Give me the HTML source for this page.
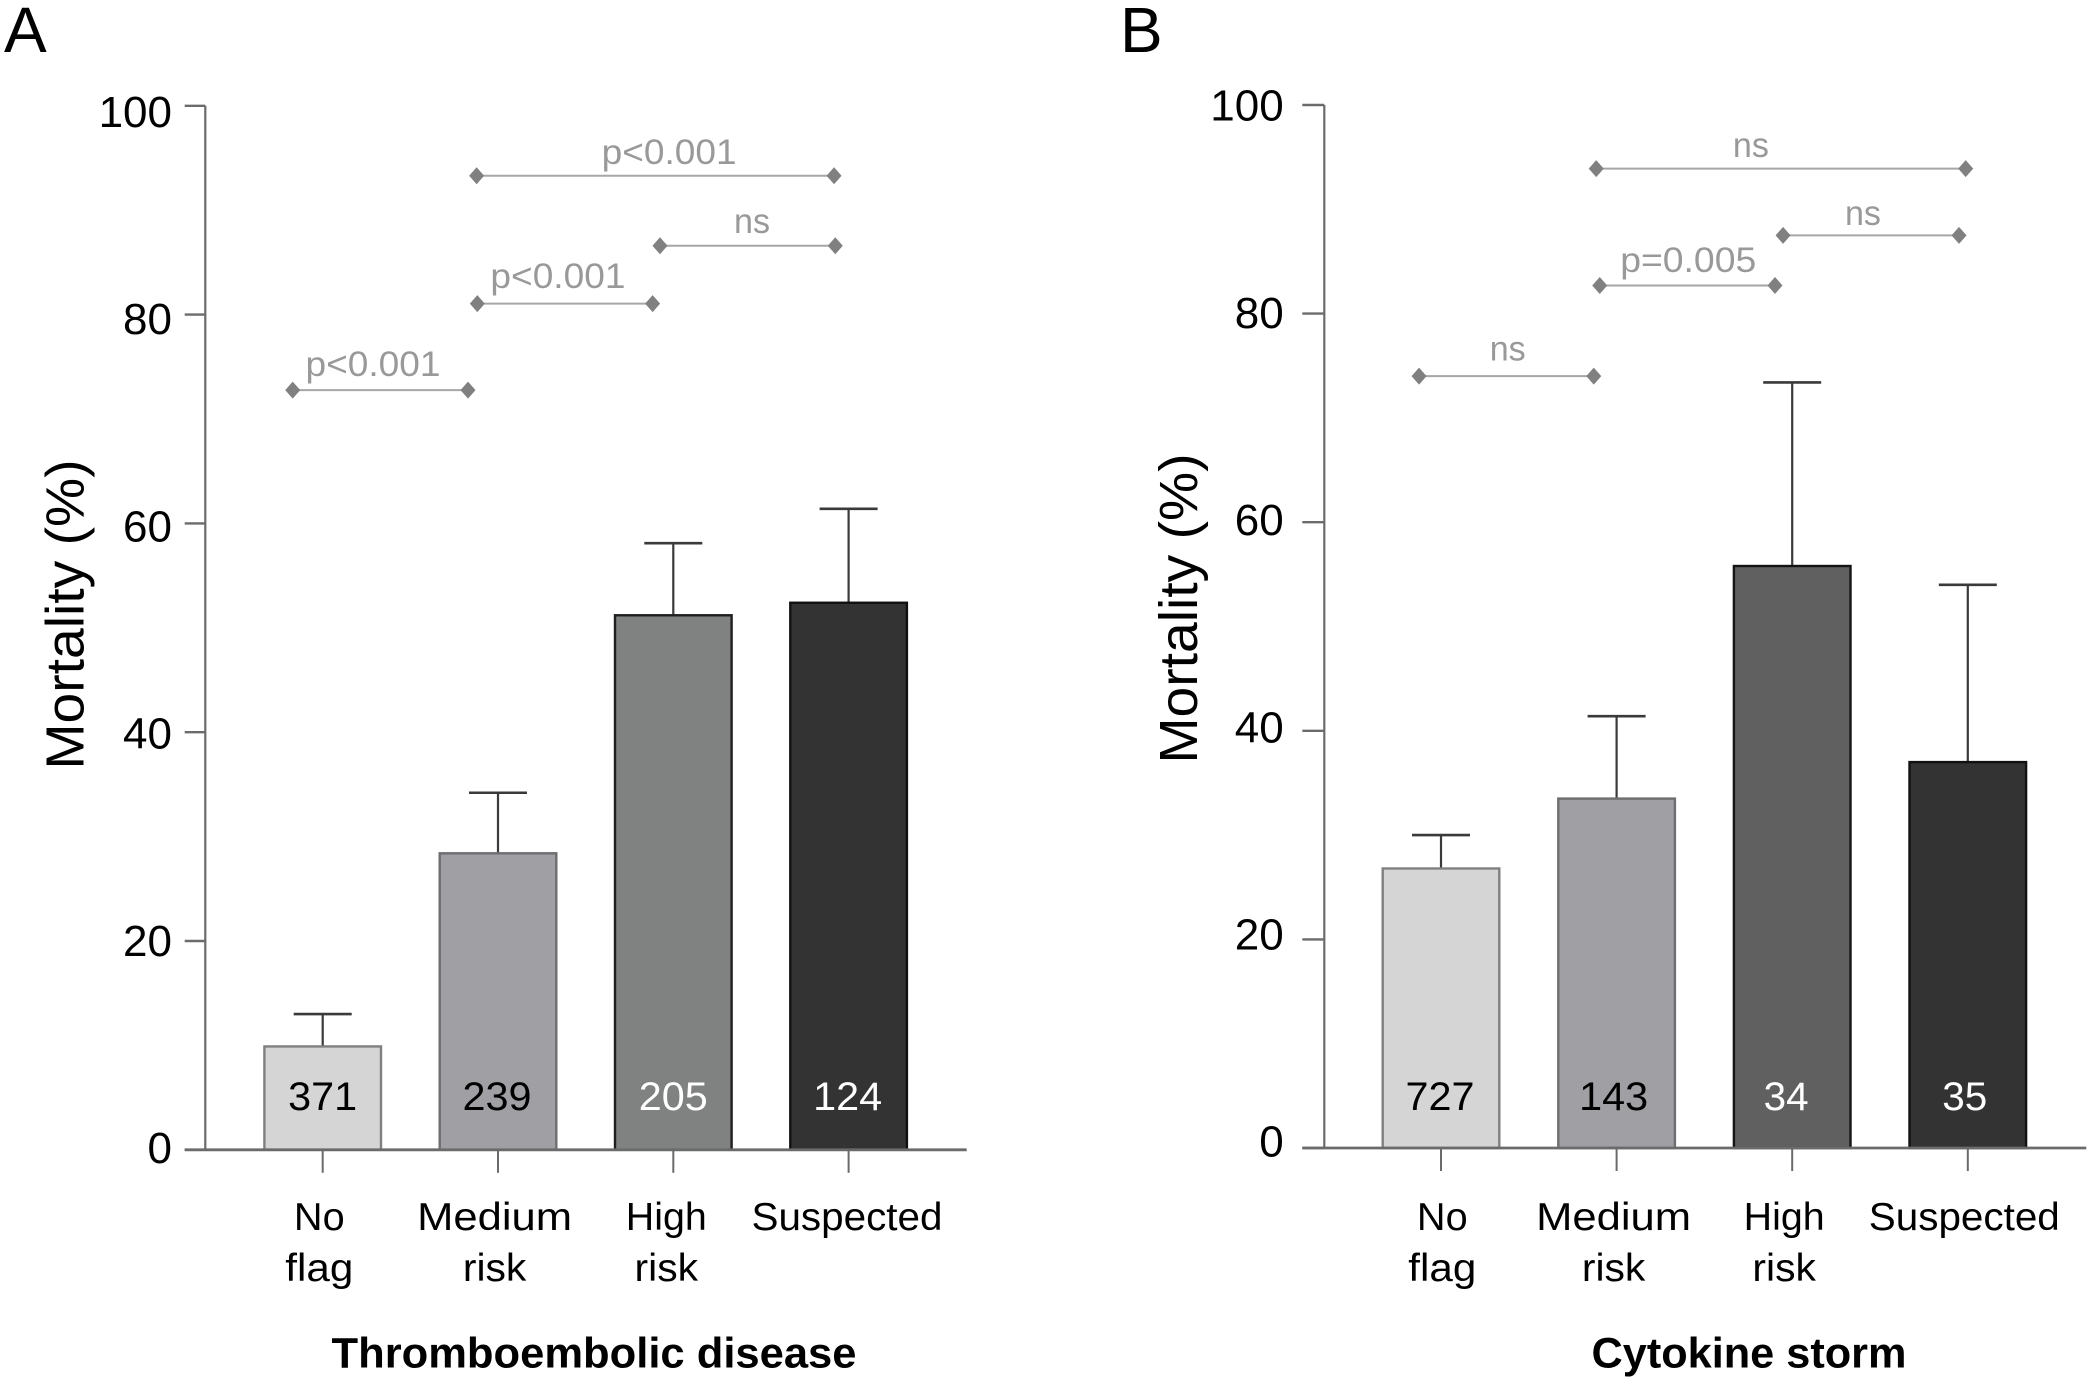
<!DOCTYPE html>
<html lang="en">
<head>
<meta charset="utf-8">
<title>Mortality by flag category</title>
<style>
html,body{margin:0;padding:0;background:#fff;}
svg{display:block;}
text{font-family:"Liberation Sans",sans-serif;}
</style>
</head>
<body>
<svg id="chart" xmlns="http://www.w3.org/2000/svg" width="2091" height="1382" viewBox="0 0 2091 1382"></svg>
<script>
/* ---------- shared data ---------- */
const yTickValues = [0, 20, 40, 60, 80, 100];
const categoryLinesA = [["No", "flag"], ["Medium", "risk"], ["High", "risk"], ["Suspected"]];

/* ---------- panel A data ---------- */
const aCounts = ["371", "239", "205", "124"];
const aValues = [9.9, 28.4, 51.2, 52.4];
const aErrorTops = [13.0, 34.2, 58.1, 61.4];
const aBracketLabels = ["p<0.001", "ns", "p<0.001", "p<0.001"];
const aBracketLevels = [93.3, 86.6, 81.05, 72.76];
const aBracketFrom = [0.878, 1.924, 0.882, -0.171];
const aBracketTo = [2.917, 2.924, 1.882, 0.829];
const aBracketLabelAt = [1.976, 2.449, 1.342, 0.287];
const aBracketLabelLevel = [94.44, 87.82, 82.55, 74.12];

/* ---------- panel B data ---------- */
const bCounts = ["727", "143", "34", "35"];
const bValues = [26.8, 33.5, 55.8, 37.0];
const bErrorTops = [30.0, 41.4, 73.4, 54.0];
const bBracketLabels = ["ns", "ns", "p=0.005", "ns"];
const bBracketLevels = [93.9, 87.5, 82.7, 74.0];
const bBracketFrom = [0.884, 1.948, 0.904, -0.125];
const bBracketTo = [2.988, 2.950, 1.902, 0.870];
const bBracketLabelAt = [1.765, 2.403, 1.408, 0.380];
const bBracketLabelLevel = [95.0, 88.5, 84.0, 75.5];

/* ---------- layout ---------- */
const panelA = {
  id: "a", letter: "A", letterX: 4, title: "Thromboembolic disease", titleX: 594, titleW: 525,
  axisX: 205.3, tickLeft: 184.7, axisRight: 966.7, y0: 1149.8, yPerUnit: 10.44,
  cat0: 322.7, catStep: 175.3, tickLabelRight: 172, tickLabelBase: 1163,
  yTitleX: 83.5, yTitleMid: 614.5, catShift: [-3.4, -3.4, -7, -1.6], countShift: [0, -1, 0, -1],
  fills: ["#d5d5d5", "#a0a0a4", "#808281", "#333333"],
  strokes: ["#808080", "#6e6e70", "#1f1f1f", "#111111"],
  counts: aCounts, values: aValues, errorTops: aErrorTops,
  bLabels: aBracketLabels, bLevels: aBracketLevels, bFrom: aBracketFrom, bTo: aBracketTo,
  bLabelAt: aBracketLabelAt, bLabelLevel: aBracketLabelLevel
};
const panelB = {
  id: "b", letter: "B", letterX: 1120, title: "Cytokine storm", titleX: 1749, titleW: 315,
  axisX: 1324.3, tickLeft: 1302.3, axisRight: 2086.3, y0: 1148, yPerUnit: 10.43,
  cat0: 1441, catStep: 175.6, tickLabelRight: 1283.7, tickLabelBase: 1156.7,
  yTitleX: 1197, yTitleMid: 608.5, catShift: [1.3, -3, -8, -3.5], countShift: [-1, -3, -6, -3],
  fills: ["#d5d5d5", "#a0a0a4", "#606060", "#333333"],
  strokes: ["#808080", "#6e6e70", "#141414", "#111111"],
  counts: bCounts, values: bValues, errorTops: bErrorTops,
  bLabels: bBracketLabels, bLevels: bBracketLevels, bFrom: bBracketFrom, bTo: bBracketTo,
  bLabelAt: bBracketLabelAt, bLabelLevel: bBracketLabelLevel
};
const catLabelWidths = {No: 50.7, flag: 68, Medium: 155, risk: 63.5, High: 81, Suspected: 191};
const countWidths = {2: 45, 3: 69};
const bracketLabelWidths = {"ns": 36, "p<0.001": 135, "p=0.005": 136};

const svg = document.getElementById("chart");
const NS = "http://www.w3.org/2000/svg";

function make(parent, tag, props, content) {
  const el = document.createElementNS(NS, tag);
  for (const k in props) el.setAttribute(k, props[k]);
  if (content !== undefined) el.textContent = content;
  parent.appendChild(el);
  return el;
}

function drawPanel(p) {
  const yScale = v => p.y0 - v * p.yPerUnit;
  const xScale = c => p.cat0 + c * p.catStep;
  const tickLabelY = v => p.tickLabelBase - v * 10.36;
  const halfBar = 58.3, capHalf = 29;

  const g = make(svg, "g", {});
  
  

  const letter = make(g, "text", {x: p.letterX, y: 51.8, "font-size": 64, fill: "#000"}, p.letter);
  
  

  // error bars
  p.values.forEach((v, i) => {
    const cx = xScale(i);
    const stem = make(g, "line", {x1: cx, x2: cx, y1: yScale(v), y2: yScale(p.errorTops[i]), stroke: "#3a3a3a", "stroke-width": 2.2});
    
    
    const cap = make(g, "line", {x1: cx - capHalf, x2: cx + capHalf, y1: yScale(p.errorTops[i]), y2: yScale(p.errorTops[i]), stroke: "#3a3a3a", "stroke-width": 2.6});
    
    
  });

  // bars
  p.values.forEach((v, i) => {
    const cx = xScale(i);
    const bar = make(g, "rect", {x: cx - halfBar, y: yScale(v), width: halfBar * 2, height: p.y0 - yScale(v), fill: p.fills[i], stroke: p.strokes[i], "stroke-width": 2.4});
    
    
    const label = p.counts[i];
    const count = make(g, "text", {x: cx + p.countShift[i], y: 1110, "font-size": 40, "text-anchor": "middle", fill: i < 2 ? "#000" : "#fff", textLength: countWidths[label.length], lengthAdjust: "spacingAndGlyphs"}, label);
    
    
  });

  // y axis
  const yAxis = make(g, "line", {x1: p.axisX, x2: p.axisX, y1: yScale(100), y2: p.y0, stroke: "#6b6b6b", "stroke-width": 2.2});
  
  
  yTickValues.forEach(v => {
    const tick = make(g, "line", {x1: p.tickLeft, x2: p.axisX, y1: yScale(v), y2: yScale(v), stroke: "#6b6b6b", "stroke-width": 2.4});
    
    
    const lab = make(g, "text", {x: p.tickLabelRight, y: tickLabelY(v), "font-size": 44, "text-anchor": "end", fill: "#000"}, String(v));
    
    
  });

  // y title
  const yTitle = make(g, "text", {x: 0, y: 0, "font-size": 54, "text-anchor": "middle", fill: "#000", textLength: 310, lengthAdjust: "spacingAndGlyphs", transform: "translate(" + p.yTitleX + " " + p.yTitleMid + ") rotate(-90)"}, "Mortality (%)");
  
  

  // x axis
  const xAxis = make(g, "line", {x1: p.tickLeft, x2: p.axisRight, y1: p.y0, y2: p.y0, stroke: "#6b6b6b", "stroke-width": 2.8});
  
  
  categoryLinesA.forEach((lines, i) => {
    const cx = xScale(i);
    const tick = make(g, "line", {x1: cx, x2: cx, y1: p.y0, y2: p.y0 + 23, stroke: "#6b6b6b", "stroke-width": 2});
    
    
    lines.forEach((line, j) => {
      const lab = make(g, "text", {x: cx + p.catShift[i], y: 1229.8 + j * 51, "font-size": 39, "text-anchor": "middle", fill: "#000", textLength: catLabelWidths[line], lengthAdjust: "spacingAndGlyphs"}, line);
      
      
    });
  });

  // x title
  const xTitle = make(g, "text", {x: p.titleX, y: 1367.7, "font-size": 43, "font-weight": "bold", "text-anchor": "middle", fill: "#000", textLength: p.titleW, lengthAdjust: "spacingAndGlyphs"}, p.title);
  
  

  // significance brackets
  p.bLevels.forEach((lvl, i) => {
    const y = yScale(lvl), x1 = xScale(p.bFrom[i]), x2 = xScale(p.bTo[i]);
    const line = make(g, "line", {x1: x1, x2: x2, y1: y, y2: y, stroke: "#a6a6a6", "stroke-width": 2});
    
    
    [x1, x2].forEach(x => {
      const d = make(g, "polygon", {points: (x - 7.5) + "," + y + " " + x + "," + (y - 8.5) + " " + (x + 7.5) + "," + y + " " + x + "," + (y + 8.5), fill: "#808080"});
      
      
    });
    const text = p.bLabels[i];
    const lab = make(g, "text", {x: xScale(p.bLabelAt[i]), y: yScale(p.bLabelLevel[i]), "font-size": 35, "text-anchor": "middle", fill: "#999999", textLength: bracketLabelWidths[text], lengthAdjust: "spacingAndGlyphs"}, text);
    
    
  });
}

drawPanel(panelA);
drawPanel(panelB);
</script>
</body>
</html>
